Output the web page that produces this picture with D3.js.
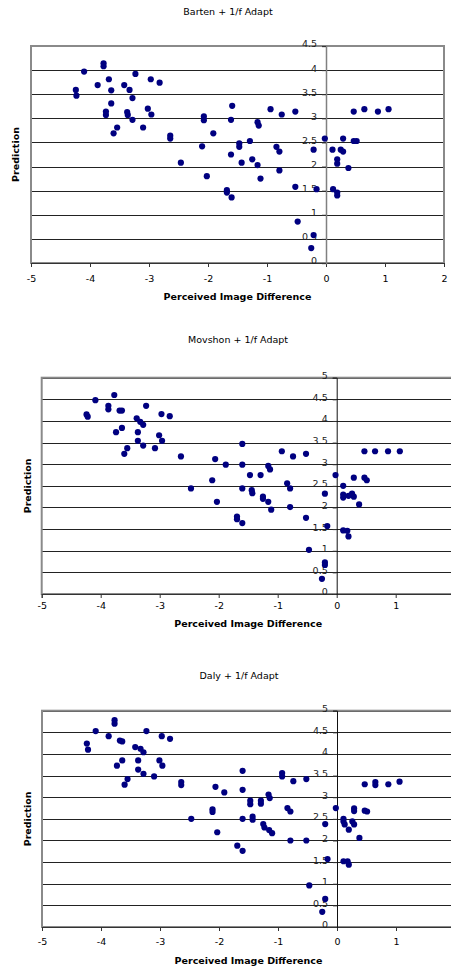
<!DOCTYPE html>
<html>
<head>
<meta charset="utf-8">
<script src="https://cdn.jsdelivr.net/npm/d3@7"></script>
<style>
  html, body { margin: 0; padding: 0; background: #fff; }
  svg { display: block; }
  text { font-family: "DejaVu Sans", Verdana, sans-serif; fill: #000; }
</style>
</head>
<body>
<script>
// ---------- data ----------
const chartTitles = ["Barten + 1/f Adapt", "Movshon + 1/f Adapt", "Daly + 1/f Adapt"];
const xAxisTitle = "Perceived Image Difference";
const yAxisTitle = "Prediction";
const xTicks = [-5, -4, -3, -2, -1, 0, 1, 2];
const yTicksBarten = [0, 0.5, 1, 1.5, 2, 2.5, 3, 3.5, 4, 4.5];
const yTicksOther = [0, 0.5, 1, 1.5, 2, 2.5, 3, 3.5, 4, 4.5, 5];

const bartenPoints = [
  [-4.24,3.59],[-4.23,3.47],[-4.10,3.97],[-3.77,4.14],[-3.77,4.08],[-3.87,3.69],[-3.68,3.81],[-3.64,3.58],
  [-3.23,3.92],[-3.42,3.69],[-3.33,3.59],[-3.28,3.42],[-2.97,3.81],[-2.82,3.74],[-3.64,3.31],[-3.73,3.14],
  [-3.73,3.07],[-3.37,3.13],[-3.36,3.07],[-3.28,2.97],[-3.02,3.20],[-2.96,3.08],[-3.54,2.81],[-3.60,2.69],
  [-3.10,2.81],[-2.64,2.64],[-2.64,2.58],[-2.07,3.04],[-2.07,2.96],[-2.10,2.42],[-2.46,2.08],[-2.02,1.80],
  [-1.91,2.69],[-1.59,3.26],[-1.61,2.97],[-1.61,2.25],[-1.68,1.51],[-1.68,1.46],[-1.60,1.36],[-1.47,2.48],
  [-1.47,2.41],[-1.43,2.08],[-1.29,2.53],[-1.25,2.15],[-1.16,2.03],[-1.16,2.92],[-1.14,2.85],[-1.11,1.75],
  [-0.94,3.19],[-0.75,3.08],[-0.84,2.41],[-0.79,2.31],[-0.79,1.92],[-0.52,3.14],[-0.52,1.58],[-0.48,0.86],
  [-0.21,2.35],[-0.16,1.53],[-0.21,0.58],[-0.25,0.31],[-0.02,2.58],[0.11,2.35],[0.12,1.53],[0.19,1.46],
  [0.19,1.40],[0.19,2.15],[0.19,2.06],[0.25,2.35],[0.29,2.31],[0.29,2.58],[0.38,1.97],[0.47,2.53],
  [0.52,2.53],[0.47,3.14],[0.65,3.19],[0.88,3.14],[1.06,3.19]
];

const movshonPoints = [
  [-4.24,4.15],[-4.22,4.10],[-4.09,4.48],[-3.77,4.60],[-3.87,4.35],[-3.87,4.27],[-3.68,4.24],[-3.64,4.24],
  [-3.23,4.35],[-2.97,4.16],[-2.83,4.11],[-3.39,4.06],[-3.33,3.98],[-3.28,3.91],[-3.64,3.84],[-3.74,3.74],
  [-3.37,3.74],[-3.01,3.67],[-2.96,3.54],[-3.37,3.54],[-3.28,3.43],[-3.08,3.37],[-3.55,3.37],[-3.60,3.24],
  [-2.64,3.18],[-2.06,3.12],[-2.11,2.63],[-2.47,2.44],[-2.03,2.13],[-1.88,2.99],[-1.60,3.47],[-1.60,2.99],
  [-1.60,2.44],[-1.69,1.79],[-1.69,1.73],[-1.60,1.64],[-1.47,2.75],[-1.44,2.40],[-1.43,2.33],[-1.29,2.75],
  [-1.25,2.25],[-1.25,2.20],[-1.16,2.13],[-1.16,2.96],[-1.13,2.88],[-1.11,1.95],[-0.93,3.30],[-0.74,3.18],
  [-0.84,2.56],[-0.79,2.44],[-0.79,2.01],[-0.52,3.24],[-0.52,1.76],[-0.47,1.02],[-0.20,2.32],[-0.16,1.57],
  [-0.20,0.67],[-0.20,0.73],[-0.25,0.35],[-0.02,2.75],[0.11,2.50],[0.11,2.30],[0.11,2.23],[0.11,1.47],
  [0.18,1.46],[0.20,1.33],[0.20,2.27],[0.26,2.32],[0.29,2.25],[0.29,2.69],[0.38,2.07],[0.47,2.69],
  [0.51,2.63],[0.47,3.30],[0.65,3.30],[0.87,3.30],[1.07,3.30]
];

const dalyPoints = [
  [-4.24,4.24],[-4.22,4.10],[-4.09,4.53],[-3.77,4.78],[-3.77,4.70],[-3.87,4.41],[-3.68,4.31],[-3.64,4.29],
  [-3.23,4.53],[-2.97,4.41],[-2.83,4.35],[-3.42,4.16],[-3.33,4.12],[-3.28,4.04],[-3.64,3.85],[-3.73,3.73],
  [-3.37,3.85],[-3.01,3.85],[-2.96,3.73],[-3.37,3.64],[-3.28,3.54],[-3.10,3.48],[-3.55,3.42],[-3.60,3.29],
  [-2.64,3.35],[-2.64,3.28],[-2.06,3.24],[-2.11,2.72],[-2.11,2.66],[-2.47,2.50],[-2.03,2.19],[-1.91,3.11],
  [-1.60,3.61],[-1.60,3.17],[-1.60,2.50],[-1.69,1.88],[-1.60,1.76],[-1.47,2.92],[-1.47,2.84],[-1.43,2.55],
  [-1.43,2.48],[-1.29,2.92],[-1.29,2.85],[-1.25,2.38],[-1.23,2.30],[-1.15,2.24],[-1.10,2.17],[-1.16,3.06],
  [-1.14,2.98],[-0.93,3.56],[-0.93,3.48],[-0.74,3.37],[-0.84,2.75],[-0.79,2.67],[-0.79,2.00],[-0.52,3.42],
  [-0.52,2.00],[-0.47,0.96],[-0.20,2.38],[-0.16,1.57],[-0.20,0.65],[-0.25,0.35],[-0.02,2.75],[0.11,2.50],
  [0.11,2.44],[0.13,2.37],[0.11,1.52],[0.18,1.52],[0.20,1.44],[0.20,2.25],[0.26,2.44],[0.29,2.37],
  [0.29,2.74],[0.29,2.68],[0.38,2.06],[0.47,2.69],[0.51,2.67],[0.47,3.30],[0.65,3.35],[0.65,3.28],
  [0.87,3.30],[1.06,3.36]
];

// ---------- layout ----------
const W = 451, H = 969;
const svg = d3.select("body").append("svg").attr("width", W).attr("height", H);

const charts = [
  { title: chartTitles[0], points: bartenPoints, yTicks: yTicksBarten, yMax: 4.5,
    left: 31, right: 444, top: 46, bottom: 263,
    titleX: 228, titleY: 15, yTitleX: 15, xTickY: 282, xTitleY: 300 },
  { title: chartTitles[1], points: movshonPoints, yTicks: yTicksOther, yMax: 5,
    left: 41.7, right: 454.7, top: 377.7, bottom: 594,
    titleX: 238, titleY: 343, yTitleX: 27, xTickY: 609, xTitleY: 627 },
  { title: chartTitles[2], points: dalyPoints, yTicks: yTicksOther, yMax: 5,
    left: 42, right: 455, top: 710.7, bottom: 927,
    titleX: 239, titleY: 679, yTitleX: 27, xTickY: 945, xTitleY: 964 }
];

charts.forEach(c => {
  const g = svg.append("g");
  const x = d3.scaleLinear().domain([-5, 2]).range([c.left, c.right]);
  const y = d3.scaleLinear().domain([0, c.yMax]).range([c.bottom, c.top]);

  // title
  g.append("text").attr("x", c.titleX).attr("y", c.titleY)
    .attr("text-anchor", "middle").style("font-size", "9.5px").text(c.title);

  // gridlines
  g.append("g").attr("transform", `translate(${c.left},0)`)
    .call(d3.axisRight(y).tickValues(c.yTicks).tickSize(c.right - c.left).tickFormat(""))
    .call(a => a.select(".domain").remove())
    .call(a => a.selectAll("line").attr("stroke", "#222").attr("shape-rendering", "crispEdges"));

  // plot frame
  g.append("rect").attr("x", c.left).attr("y", c.top)
    .attr("width", c.right - c.left).attr("height", c.bottom - c.top)
    .attr("fill", "none").attr("stroke", "#8a8a8a").attr("stroke-width", 2);

  // x axis
  const xa = g.append("g").attr("transform", `translate(0,${c.bottom})`)
    .call(d3.axisBottom(x).tickValues(xTicks).tickSize(4).tickFormat(d => String(d)));
  xa.select(".domain").attr("stroke", "#333");
  xa.selectAll("line").attr("stroke", "#333");
  xa.selectAll("text").attr("y", c.xTickY - c.bottom).attr("dy", 0)
    .style("font-size", "9.5px").style("font-family", "DejaVu Sans");

  // y axis at x = 0
  const ya = g.append("g").attr("transform", `translate(${x(0)},0)`)
    .call(d3.axisLeft(y).tickValues(c.yTicks).tickSize(4).tickPadding(5).tickFormat(d => String(d)));
  ya.select(".domain").attr("stroke", c.yMax === 4.5 ? "#808080" : "#111").attr("stroke-width", c.yMax === 4.5 ? 1.5 : 1);
  ya.selectAll("line").attr("stroke", "#333");
  ya.selectAll("text").attr("dy", "0.1em")
    .style("font-size", "9.5px").style("font-family", "DejaVu Sans").style("fill", "#222");

  // points
  g.append("g").selectAll("circle").data(c.points).join("circle")
    .attr("cx", d => x(d[0])).attr("cy", d => y(d[1])).attr("r", 3.1)
    .attr("fill", "#000080");

  // axis titles
  g.append("text").attr("x", (c.left + c.right) / 2).attr("y", c.xTitleY)
    .attr("text-anchor", "middle").style("font-size", "9.5px").style("font-weight", "bold")
    .text(xAxisTitle);
  g.append("text")
    .attr("transform", `translate(${c.yTitleX},${(c.top + c.bottom) / 2}) rotate(-90)`)
    .attr("text-anchor", "middle").attr("dominant-baseline", "central")
    .style("font-size", "9.5px").style("font-weight", "bold")
    .text(yAxisTitle);
});
</script>
</body>
</html>
